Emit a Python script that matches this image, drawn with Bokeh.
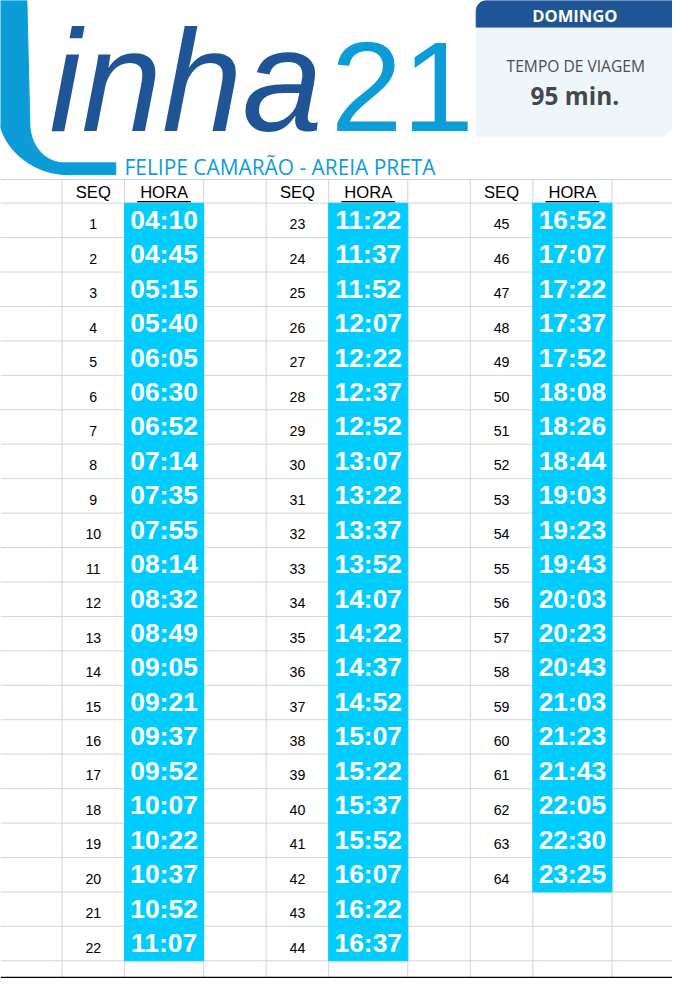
import numpy as np
from bokeh.plotting import figure
from bokeh.models import Range1d, ColumnDataSource
from bokeh.core.properties import value
from bokeh.embed import file_html
from bokeh.resources import INLINE

# ---------------- data ----------------
titulo_linha = "inha"
numero_linha = "21"
itinerario = "FELIPE CAMARÃO - AREIA PRETA"
dia = "DOMINGO"
rotulo_tempo = "TEMPO DE VIAGEM"
tempo_viagem = "95 min."
cabecalho_seq = "SEQ"
cabecalho_hora = "HORA"

sequencia = [1, 2, 3, 4, 5, 6, 7, 8, 9, 10, 11, 12, 13, 14, 15, 16,
             17, 18, 19, 20, 21, 22, 23, 24, 25, 26, 27, 28, 29, 30, 31, 32,
             33, 34, 35, 36, 37, 38, 39, 40, 41, 42, 43, 44, 45, 46, 47, 48,
             49, 50, 51, 52, 53, 54, 55, 56, 57, 58, 59, 60, 61, 62, 63, 64]

horarios = ["04:10", "04:45", "05:15", "05:40", "06:05", "06:30", "06:52", "07:14",
            "07:35", "07:55", "08:14", "08:32", "08:49", "09:05", "09:21", "09:37",
            "09:52", "10:07", "10:22", "10:37", "10:52", "11:07",
            "11:22", "11:37", "11:52", "12:07", "12:22", "12:37", "12:52", "13:07",
            "13:22", "13:37", "13:52", "14:07", "14:22", "14:37", "14:52", "15:07",
            "15:22", "15:37", "15:52", "16:07", "16:22", "16:37",
            "16:52", "17:07", "17:22", "17:37", "17:52", "18:08", "18:26", "18:44",
            "19:03", "19:23", "19:43", "20:03", "20:23", "20:43", "21:03", "21:23",
            "21:43", "22:05", "22:30", "23:25"]

# ---------------- layout ----------------
W, H = 688, 994
PW, PH = 672, 978
S = PW / W
K = 0.375  # baseline correction (fraction of font size)

def fs(px):
    return f"{px * S:.1f}px"

def by(baseline, px):
    return baseline - K * px

edges = [0, 63, 127, 208, 272, 336, 417, 481, 545, 626, 688]
head_top = 182
row_top0 = 206
row_h = 35
rows_per_col = 22

SANS = "Open Sans"
ARIAL = "Liberation Sans"
CYAN = "#0C9CD8"
DARK = "#1F5596"
CELL = "#00CCFF"
GRID = "#CDD3E2"

p = figure(width=PW, height=PH, output_backend="svg", toolbar_location=None,
           x_range=Range1d(0, W), y_range=Range1d(H, 0),
           min_border=0, background_fill_color="white", border_fill_color="white")
p.axis.visible = False
p.grid.visible = False
p.outline_line_color = None

# grid lines
n_lines = rows_per_col + 1
hy = [head_top] + [row_top0 + k * row_h for k in range(n_lines)]
p.segment(x0=[0] * len(hy), x1=[W] * len(hy), y0=hy, y1=hy, line_color=GRID, line_width=1)
vx = edges[1:-1]
p.segment(x0=vx, x1=vx, y0=[head_top] * len(vx), y1=[H] * len(vx), line_color=GRID, line_width=1)
p.segment(x0=[0], x1=[W], y0=[993], y1=[993], line_color="black", line_width=1.6)

# table cells
idx = np.arange(len(horarios))
grp = idx // rows_per_col
row = idx % rows_per_col
seq_left = np.array([edges[1 + 3 * g] for g in grp])
seq_right = np.array([edges[2 + 3 * g] for g in grp])
hora_right = np.array([edges[3 + 3 * g] for g in grp])
tops = row_top0 + row * row_h
src = ColumnDataSource(dict(
    seq=[str(s) for s in sequencia], hora=horarios,
    seq_x=(seq_left + seq_right) / 2, hora_x=(seq_right + hora_right) / 2,
    left=seq_right, right=hora_right, top=tops, bottom=tops + row_h,
    base_seq=by(tops + 27, 14.5), base_hora=by(tops + 27, 27)))
p.quad(left="left", right="right", top="top", bottom="bottom", source=src,
       fill_color=CELL, line_color=CELL, line_width=1)
p.text(x="seq_x", y="base_seq", text="seq", source=src, text_font=value(ARIAL),
       text_font_size=fs(14.5), text_align="center", text_baseline="alphabetic",
       text_color="black")
p.text(x="hora_x", y="base_hora", text="hora", source=src, text_font=value(ARIAL),
       text_font_size=fs(27), text_font_style="bold", text_align="center",
       text_baseline="alphabetic", text_color="white")

# headers
gs = [0, 1, 2]
hx_seq = [(edges[1 + 3 * g] + edges[2 + 3 * g]) / 2 for g in gs]
hx_hora = [(edges[2 + 3 * g] + edges[3 + 3 * g]) / 2 for g in gs]
p.text(x=hx_seq, y=[by(202, 17)] * 3, text=[cabecalho_seq] * 3, text_font=value(ARIAL),
       text_font_size=fs(17), text_align="center", text_baseline="alphabetic", text_color="black")
p.text(x=hx_hora, y=[by(202, 17)] * 3, text=[cabecalho_hora] * 3, text_font=value(ARIAL),
       text_font_size=fs(17), text_align="center", text_baseline="alphabetic", text_color="black")
p.segment(x0=[x - 27.5 for x in hx_hora], x1=[x + 27.5 for x in hx_hora],
          y0=[204.5] * 3, y1=[204.5] * 3, line_color="black", line_width=1.3)

# ---------------- logo ----------------
def arc(cx, cy, rx, ry, a0, a1, n=24):
    t = np.linspace(np.radians(a0), np.radians(a1), n)
    return list(cx + rx * np.cos(t)), list(cy + ry * np.sin(t))

# L swoosh (y grows downward)
Lx, Ly = [-3, -3], [0, 110]
ax_, ay_ = arc(70, 110, 73, 67, 180, 90)
Lx += ax_; Ly += ay_
Lx += [118, 118, 65]; Ly += [177, 165, 165]
bx_, by_ = arc(65, 125, 35, 40, 90, 180)
Lx += bx_; Ly += by_
Lx += [27]; Ly += [0]
p.patch(Lx, Ly, fill_color=CYAN, line_color=CYAN)

p.text(x=[50], y=[by(137, 148)], text=[titulo_linha], text_font=value(ARIAL),
       text_font_style="italic", text_font_size=fs(148), text_color=DARK,
       text_align="left", text_baseline="alphabetic")
p.text(x=[338], y=[by(137, 132)], text=[numero_linha], text_font=value(ARIAL),
       text_font_size=fs(132), text_color=CYAN, text_align="left", text_baseline="alphabetic")
p.text(x=[127], y=[by(177, 21.4)], text=[itinerario], text_font=value(SANS),
       text_font_size=fs(21.4), text_color=CYAN, text_align="left", text_baseline="alphabetic")

# info box
def rrect(x0, y0, x1, y1, rtl, rtr, rbr, rbl):
    xs, ys = [], []
    a, b = arc(x0 + rtl, y0 + rtl, rtl, rtl, 180, 270, 12); xs += a; ys += b
    a, b = arc(x1 - rtr, y0 + rtr, rtr, rtr, 270, 360, 12); xs += a; ys += b
    a, b = arc(x1 - rbr, y1 - rbr, rbr, rbr, 0, 90, 12); xs += a; ys += b
    a, b = arc(x0 + rbl, y1 - rbl, rbl, rbl, 90, 180, 12); xs += a; ys += b
    return xs, ys

bx, byy = rrect(487, 0, 688, 138, 11, 0, 13, 0)
p.patch(bx, byy, fill_color="#EEF5FB", line_color="#EEF5FB")
tx, ty = rrect(487, 0, 688, 27, 11, 0, 0, 0)
p.patch(tx, ty, fill_color=DARK, line_color=DARK)
p.text(x=[588], y=[by(22, 17)], text=[dia], text_font=value(SANS), text_font_style="bold",
       text_font_size=fs(17), text_color="white", text_align="center", text_baseline="alphabetic")
p.text(x=[589], y=[by(73, 16)], text=[rotulo_tempo], text_font=value(SANS),
       text_font_size=fs(16), text_color="#4D4D4D", text_align="center", text_baseline="alphabetic")
p.text(x=[588], y=[by(106, 25)], text=[tempo_viagem], text_font=value(SANS), text_font_style="bold",
       text_font_size=fs(25), text_color="#474747", text_align="center", text_baseline="alphabetic")

open("out.html", "w").write(file_html(p, INLINE))
